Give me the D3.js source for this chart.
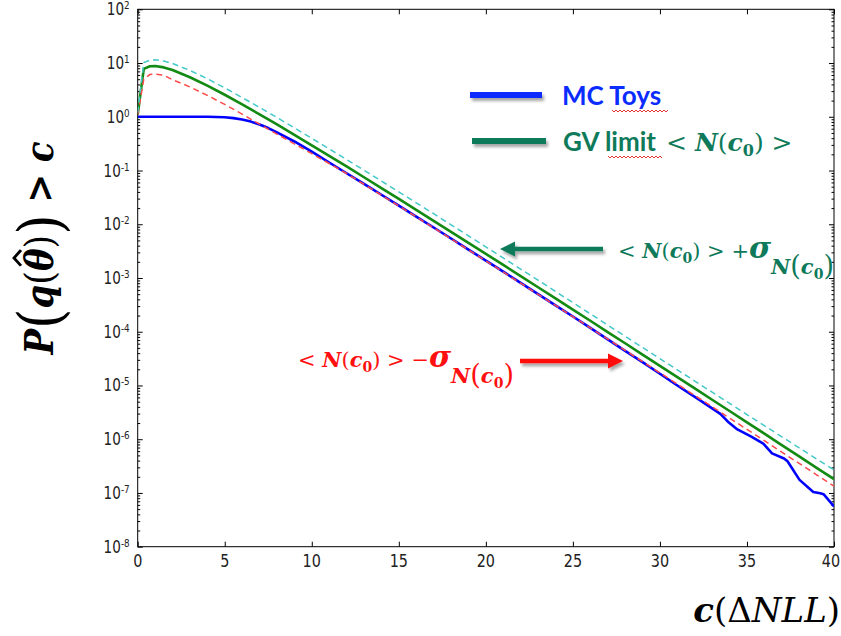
<!DOCTYPE html>
<html><head><meta charset="utf-8">
<script src="https://cdn.jsdelivr.net/npm/d3@7"></script>
<style>html,body{margin:0;padding:0;background:#fff;} svg{display:block;}</style>
</head><body>
<svg id="chart" width="841" height="636"></svg>
<script>
// ---------------- data ----------------
const cGrid = [0, 0.35, 0.7, 1, 1.5, 2, 3, 4, 5, 6, 7, 8, 9, 10, 11, 12, 13, 14, 15, 16, 17, 18, 19, 20,
  21, 22, 23, 24, 25, 26, 27, 28, 29, 30, 31, 32, 33, 34, 35, 36, 37, 38, 39, 40];
const gvLimit = [1.1, 7.8, 8.7, 8.8, 8.3, 7.4, 5.45, 3.8, 2.57, 1.7, 1.11, 0.72, 0.46, 0.294, 0.1875, 0.119,
  0.075, 0.0472, 0.0296, 0.0186, 0.0116, 0.00724, 0.00451, 0.00281, 0.00175, 0.00108, 6.73e-4, 4.17e-4,
  2.58e-4, 1.6e-4, 9.86e-5, 6.1e-5, 3.76e-5, 2.32e-5, 1.43e-5, 8.83e-6, 5.43e-6, 3.35e-6, 2.06e-6,
  1.27e-6, 7.78e-7, 4.79e-7, 2.94e-7, 1.81e-7];
const gvPlus = [1.2, 10.2, 11.3, 11.5, 10.9, 9.8, 7.3, 5.1, 3.45, 2.28, 1.49, 0.97, 0.62, 0.397, 0.253, 0.16,
  0.101, 0.0637, 0.04, 0.0251, 0.0157, 0.00977, 0.00609, 0.00379, 0.00236, 0.00146, 9.1e-4, 5.63e-4,
  3.48e-4, 2.16e-4, 1.33e-4, 8.25e-5, 5.1e-5, 3.15e-5, 1.95e-5, 1.21e-5, 7.5e-6, 4.65e-6, 2.88e-6,
  1.79e-6, 1.11e-6, 6.9e-7, 4.29e-7, 2.68e-7];
const gvMinus = [1.1, 5.0, 6.1, 6.25, 5.9, 4.9, 3.6, 2.5, 1.7, 1.12, 0.73, 0.475, 0.313, 0.206, 0.135, 0.088,
  0.0555, 0.0349, 0.0219, 0.01376, 0.00858, 0.00536, 0.00334, 0.00208, 0.001295, 8.0e-4, 4.98e-4, 3.09e-4,
  1.91e-4, 1.18e-4, 7.3e-5, 4.51e-5, 2.78e-5, 1.72e-5, 1.06e-5, 6.53e-6, 4.02e-6, 2.48e-6, 1.52e-6,
  9.4e-7, 5.76e-7, 3.54e-7, 2.18e-7, 1.34e-7];
const toysC = [0, 1, 2, 3, 4, 4.5, 5, 5.5, 6, 6.5, 7, 7.5, 8, 9, 10, 11, 12, 13, 14, 15, 16, 17, 18, 19, 20,
  21, 22, 23, 24, 25, 26, 27, 28, 29, 30, 31, 32.29, 33.47, 33.96, 34.45, 35.25, 35.94, 36.44, 37.13,
  37.33, 38.02, 38.81, 39.21, 39.4, 40];
const toysP = [1, 1, 1, 1, 1, 0.993, 0.977, 0.944, 0.891, 0.813, 0.716, 0.617, 0.513, 0.347, 0.224, 0.141,
  0.089, 0.0562, 0.0354, 0.0222, 0.0139, 0.0087, 0.00543, 0.00338, 0.00211, 0.00131, 8.1e-4, 5.0e-4,
  3.1e-4, 1.92e-4, 1.18e-4, 7.2e-5, 4.4e-5, 2.72e-5, 1.65e-5, 1.0e-5, 5.35e-6, 2.96e-6, 2.04e-6, 1.52e-6,
  1.12e-6, 8.24e-7, 5.46e-7, 4.39e-7, 3.89e-7, 1.75e-7, 1.04e-7, 9.9e-8, 9.5e-8, 5.6e-8];
const xTickValues = [0, 5, 10, 15, 20, 25, 30, 35, 40];
const yExponents = [-8, -7, -6, -5, -4, -3, -2, -1, 0, 1, 2];
const legendLabels = ["MC Toys", "GV limit"];

// ---------------- layout ----------------
const svg = d3.select("#chart");
const L = 137.7, R = 834, T = 9.3, B = 546.7;
const x = d3.scaleLinear().domain([0, 40]).range([L, R]);
const y = d3.scaleLog().domain([1e-8, 1e2]).range([B, T]);
const serif = "'DejaVu Serif', 'Liberation Serif', serif";
const sans = "Lato, 'Open Sans', sans-serif";
const tickFont = "'DejaVu Sans', sans-serif";
const C_BLUE = "#0b2cff", C_GREEN = "#0e7a5a", C_RED = "#ff1010";

const defs = svg.append("defs");
defs.append("clipPath").attr("id", "plotclip").append("rect")
  .attr("x", L).attr("y", T).attr("width", R - L).attr("height", B - T);
defs.append("filter").attr("id", "sh").attr("x", "-30%").attr("y", "-100%").attr("width", "160%").attr("height", "300%")
  .append("feDropShadow").attr("dx", 2).attr("dy", 3).attr("stdDeviation", 1.6)
  .attr("flood-color", "#000").attr("flood-opacity", 0.35);

// ---------------- axes ----------------
const majorY = yExponents.map(e => Math.pow(10, e));
const minorY = [];
yExponents.slice(0, -1).forEach(e => { for (let k = 2; k <= 9; k++) minorY.push(k * Math.pow(10, e)); });

function styleAxis(g) {
  g.select(".domain").remove();
  g.selectAll(".tick line").attr("stroke", "#000").attr("stroke-width", 1);
}
svg.append("g").attr("transform", `translate(${L},0)`)
  .call(d3.axisLeft(y).tickValues(majorY).tickSize(-5).tickSizeOuter(0).tickFormat("")).call(styleAxis);
svg.append("g").attr("transform", `translate(${L},0)`)
  .call(d3.axisLeft(y).tickValues(minorY).tickSize(-2.5).tickSizeOuter(0).tickFormat("")).call(styleAxis);
svg.append("g").attr("transform", `translate(${R},0)`)
  .call(d3.axisRight(y).tickValues(majorY).tickSize(-5).tickSizeOuter(0).tickFormat("")).call(styleAxis);
svg.append("g").attr("transform", `translate(${R},0)`)
  .call(d3.axisRight(y).tickValues(minorY).tickSize(-2.5).tickSizeOuter(0).tickFormat("")).call(styleAxis);
svg.append("g").attr("transform", `translate(0,${B})`)
  .call(d3.axisBottom(x).tickValues(xTickValues).tickSize(-5).tickSizeOuter(0).tickFormat("")).call(styleAxis);
svg.append("g").attr("transform", `translate(0,${T})`)
  .call(d3.axisTop(x).tickValues(xTickValues).tickSize(-5).tickSizeOuter(0).tickFormat("")).call(styleAxis);

svg.append("rect").attr("x", L).attr("y", T).attr("width", R - L).attr("height", B - T)
  .attr("fill", "none").attr("stroke", "#000").attr("stroke-width", 1);

// tick labels
xTickValues.forEach(v => {
  svg.append("text").attr("transform", `translate(${Math.min(x(v), 831)},${B + 20}) scale(0.8,1)`)
    .attr("text-anchor", "middle").attr("font-family", tickFont).attr("font-size", 18).attr("fill", "#222")
    .text(v);
});
yExponents.forEach(e => {
  const t = svg.append("text").attr("transform", `translate(${L - 8},${y(Math.pow(10, e)) + 6}) scale(0.8,1)`)
    .attr("text-anchor", "end").attr("font-family", tickFont).attr("font-size", 17).attr("fill", "#222");
  t.append("tspan").text("10");
  t.append("tspan").attr("dy", -6).attr("font-size", 11).text(String(e));
});

// ---------------- curves ----------------
const line = d3.line().x(d => x(d[0])).y(d => y(d[1]));
const plot = svg.append("g").attr("clip-path", "url(#plotclip)");
plot.append("path").datum(toysC.map((c, i) => [c, toysP[i]])).attr("d", line)
  .attr("fill", "none").attr("stroke", "#0000ff").attr("stroke-width", 2.6).attr("stroke-linejoin", "round");
plot.append("path").datum(cGrid.map((c, i) => [c, gvLimit[i]])).attr("d", line)
  .attr("fill", "none").attr("stroke", "#138a13").attr("stroke-width", 2.6).attr("stroke-linejoin", "round");
plot.append("path").datum(cGrid.map((c, i) => [c, gvMinus[i]])).attr("d", line)
  .attr("fill", "none").attr("stroke", "#ff4a4a").attr("stroke-width", 1.5).attr("stroke-dasharray", "6,4");
plot.append("path").datum(cGrid.map((c, i) => [c, gvPlus[i]])).attr("d", line)
  .attr("fill", "none").attr("stroke", "#45c8c8").attr("stroke-width", 1.5).attr("stroke-dasharray", "6,4");

// ---------------- rich text helper ----------------
function runs(textSel, list, base) {
  let cur = 0;
  list.forEach(r => {
    const off = r.off || 0;
    textSel.append("tspan")
      .attr("dy", off - cur)
      .attr("dx", r.dx || 0)
      .attr("font-size", r.s || base.s)
      .attr("font-family", r.f || base.f)
      .attr("font-weight", r.b ? "bold" : "normal")
      .attr("font-style", r.i ? "italic" : "normal")
      .text(r.t);
    cur = off;
  });
}
function wavy(x0, x1, yy) {
  let d = `M${x0},${yy}`;
  for (let xx = x0, k = 0; xx < x1; xx += 2, k++) d += `L${xx + 2},${yy + (k % 2 ? 0 : 2)}`;
  svg.append("path").attr("d", d).attr("fill", "none").attr("stroke", "#e02020").attr("stroke-width", 0.9);
}

// ---------------- axis titles ----------------
const yg = svg.append("g");
const ylab = yg.append("text").attr("text-anchor", "middle").attr("fill", "#000");
runs(ylab, [
  { t: "P", b: 1, i: 1 },
  { t: "(", s: 60, off: 8 },
  { t: "q", b: 1, i: 1 },
  { t: "(", s: 40 },
  { t: "θ", b: 1, i: 1 },
  { t: ")", s: 40 },
  { t: ")", s: 60, off: 8 },
  { t: " > ", b: 1 },
  { t: "c", b: 1, i: 1 }
], { s: 39, f: serif });
const ylen = ylab.node().getComputedTextLength();
// hat over theta (character index 4)
const th = ylab.node().getExtentOfChar(4);
const hx = th.x + th.width * 0.58, hy = th.y + 2;
yg.append("path").attr("d", `M${hx - 9},${hy + 3}L${hx},${hy - 4}L${hx + 9},${hy + 3}`)
  .attr("fill", "none").attr("stroke", "#000").attr("stroke-width", 3).attr("stroke-linejoin", "miter");
yg.attr("transform", `translate(53,248) rotate(-90) scale(${213 / ylen},1)`);

const xlab = svg.append("text").attr("text-anchor", "end").attr("fill", "#000")
  .attr("transform", "translate(840,622)");
runs(xlab, [
  { t: "c", b: 1, i: 1 },
  { t: "(" },
  { t: "Δ" },
  { t: "NLL", i: 1 },
  { t: ")" }
], { s: 34, f: serif });

// ---------------- legend ----------------
svg.append("rect").attr("x", 470).attr("y", 92).attr("width", 72).attr("height", 6)
  .attr("fill", C_BLUE).attr("filter", "url(#sh)");
svg.append("rect").attr("x", 472).attr("y", 138).attr("width", 74).attr("height", 6)
  .attr("fill", C_GREEN).attr("filter", "url(#sh)");
svg.append("text").attr("x", 562).attr("y", 105).attr("fill", C_BLUE)
  .attr("font-family", sans).attr("font-weight", "bold").attr("font-size", 26).text(legendLabels[0]);
const lg2 = svg.append("text").attr("x", 563).attr("y", 151).attr("fill", C_GREEN);
runs(lg2, [
  { t: legendLabels[1], f: sans, b: 1, s: 26 },
  { t: " < ", dx: 2 },
  { t: "N", b: 1, i: 1 },
  { t: "(" },
  { t: "c", b: 1, i: 1 },
  { t: "0", b: 1, s: 16, off: 5 },
  { t: ")" },
  { t: " >" }
], { s: 25, f: serif });
wavy(612, 668, 110);
wavy(608, 662, 156);

// ---------------- annotations ----------------
function arrow(x0, x1, yy, color, w, head) {
  const dir = Math.sign(x1 - x0);
  const g = svg.append("g").attr("filter", "url(#sh)");
  g.append("line").attr("x1", x0).attr("x2", x1 - dir * head * 0.8).attr("y1", yy).attr("y2", yy)
    .attr("stroke", color).attr("stroke-width", w);
  g.append("path").attr("d", `M${x1},${yy}L${x1 - dir * head},${yy - head / 2}L${x1 - dir * head},${yy + head / 2}Z`)
    .attr("fill", color);
}
arrow(603, 500, 249, C_GREEN, 4.5, 15);
arrow(520, 623, 361, C_RED, 4.5, 15);

function sigmaText(x0, y0, color, sign) {
  const t = svg.append("text").attr("x", x0).attr("y", y0).attr("fill", color);
  runs(t, [
    { t: "< " },
    { t: "N", b: 1, i: 1 },
    { t: "(" },
    { t: "c", b: 1, i: 1 },
    { t: "0", b: 1, s: 14, off: 5 },
    { t: ")" },
    { t: " > " + sign },
    { t: "σ", b: 1, i: 1, s: 30 },
    { t: "N", b: 1, i: 1, off: 16 },
    { t: "(", s: 27, off: 17 },
    { t: "c", b: 1, i: 1, off: 16 },
    { t: "0", b: 1, s: 14, off: 21 },
    { t: ")", s: 27, off: 17 }
  ], { s: 21, f: serif });
}
sigmaText(618, 258, C_GREEN, "+");
sigmaText(298, 367, C_RED, "−");
</script>
</body></html>
